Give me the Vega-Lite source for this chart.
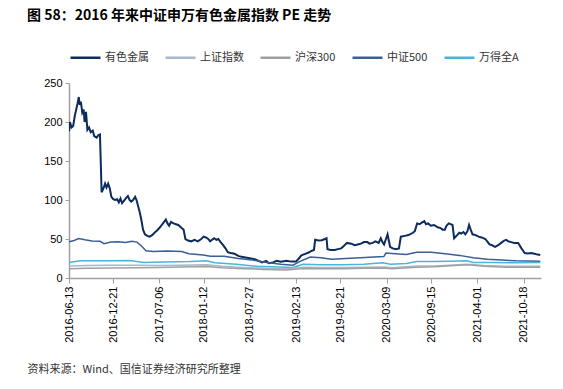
{
  "$schema": "https://vega.github.io/schema/vega-lite/v6.json",
  "autosize": {"type": "none"},
  "width": 472,
  "height": 195,
  "padding": {"left": 69, "top": 83, "right": 22, "bottom": 111},
  "background": "white",
  "config": {"view": {"stroke": null}, "font": "Noto Sans CJK SC"},
  "title": {
    "text": "图 58：2016 年来中证申万有色金属指数 PE 走势",
    "anchor": "start",
    "dx": 0,
    "offset": 18,
    "fontSize": 14,
    "fontWeight": "bold",
    "color": "#000000",
    "font": "Noto Sans CJK SC"
  },
  "data": {
    "values": [
      {"date":"2016-06-13","series":"有色金属","pe":188},{"date":"2016-06-17","series":"有色金属","pe":200},{"date":"2016-06-24","series":"有色金属","pe":193},{"date":"2016-07-01","series":"有色金属","pe":195},{"date":"2016-07-08","series":"有色金属","pe":208},{"date":"2016-07-14","series":"有色金属","pe":216},{"date":"2016-07-20","series":"有色金属","pe":224},{"date":"2016-07-25","series":"有色金属","pe":232},{"date":"2016-07-29","series":"有色金属","pe":222},{"date":"2016-08-03","series":"有色金属","pe":226},{"date":"2016-08-09","series":"有色金属","pe":212},{"date":"2016-08-15","series":"有色金属","pe":216},{"date":"2016-08-19","series":"有色金属","pe":200},{"date":"2016-08-25","series":"有色金属","pe":213},{"date":"2016-08-31","series":"有色金属","pe":190},{"date":"2016-09-07","series":"有色金属","pe":193},{"date":"2016-09-14","series":"有色金属","pe":187},{"date":"2016-09-23","series":"有色金属","pe":189},{"date":"2016-09-29","series":"有色金属","pe":182},{"date":"2016-10-10","series":"有色金属","pe":180},{"date":"2016-10-17","series":"有色金属","pe":183},{"date":"2016-10-24","series":"有色金属","pe":184},{"date":"2016-10-31","series":"有色金属","pe":110},{"date":"2016-11-08","series":"有色金属","pe":115},{"date":"2016-11-15","series":"有色金属","pe":121},{"date":"2016-11-21","series":"有色金属","pe":116},{"date":"2016-11-28","series":"有色金属","pe":121},{"date":"2016-12-05","series":"有色金属","pe":115},{"date":"2016-12-12","series":"有色金属","pe":104},{"date":"2016-12-20","series":"有色金属","pe":101},{"date":"2016-12-28","series":"有色金属","pe":100},{"date":"2017-01-06","series":"有色金属","pe":101},{"date":"2017-01-13","series":"有色金属","pe":97},{"date":"2017-01-20","series":"有色金属","pe":102},{"date":"2017-01-27","series":"有色金属","pe":96},{"date":"2017-02-07","series":"有色金属","pe":100},{"date":"2017-02-14","series":"有色金属","pe":103},{"date":"2017-02-21","series":"有色金属","pe":105},{"date":"2017-02-28","series":"有色金属","pe":100},{"date":"2017-03-07","series":"有色金属","pe":98},{"date":"2017-03-15","series":"有色金属","pe":100},{"date":"2017-03-24","series":"有色金属","pe":104},{"date":"2017-03-30","series":"有色金属","pe":100},{"date":"2017-04-06","series":"有色金属","pe":92},{"date":"2017-04-13","series":"有色金属","pe":84},{"date":"2017-04-20","series":"有色金属","pe":74},{"date":"2017-04-27","series":"有色金属","pe":62},{"date":"2017-05-05","series":"有色金属","pe":56},{"date":"2017-05-15","series":"有色金属","pe":54},{"date":"2017-05-25","series":"有色金属","pe":53},{"date":"2017-06-05","series":"有色金属","pe":55},{"date":"2017-06-15","series":"有色金属","pe":58},{"date":"2017-06-26","series":"有色金属","pe":61},{"date":"2017-07-06","series":"有色金属","pe":64},{"date":"2017-07-14","series":"有色金属","pe":67},{"date":"2017-07-24","series":"有色金属","pe":71},{"date":"2017-08-03","series":"有色金属","pe":75},{"date":"2017-08-10","series":"有色金属","pe":70},{"date":"2017-08-17","series":"有色金属","pe":67},{"date":"2017-08-25","series":"有色金属","pe":72},{"date":"2017-09-05","series":"有色金属","pe":70},{"date":"2017-09-15","series":"有色金属","pe":69},{"date":"2017-09-25","series":"有色金属","pe":68},{"date":"2017-10-10","series":"有色金属","pe":64},{"date":"2017-10-18","series":"有色金属","pe":62},{"date":"2017-10-26","series":"有色金属","pe":50},{"date":"2017-11-06","series":"有色金属","pe":48},{"date":"2017-11-20","series":"有色金属","pe":47},{"date":"2017-12-04","series":"有色金属","pe":49},{"date":"2017-12-18","series":"有色金属","pe":47},{"date":"2018-01-02","series":"有色金属","pe":50},{"date":"2018-01-12","series":"有色金属","pe":53},{"date":"2018-01-22","series":"有色金属","pe":52},{"date":"2018-02-01","series":"有色金属","pe":50},{"date":"2018-02-09","series":"有色金属","pe":47},{"date":"2018-02-26","series":"有色金属","pe":51},{"date":"2018-03-08","series":"有色金属","pe":49},{"date":"2018-03-16","series":"有色金属","pe":50},{"date":"2018-03-26","series":"有色金属","pe":46},{"date":"2018-04-06","series":"有色金属","pe":42},{"date":"2018-04-16","series":"有色金属","pe":38},{"date":"2018-04-26","series":"有色金属","pe":33},{"date":"2018-05-08","series":"有色金属","pe":32},{"date":"2018-05-25","series":"有色金属","pe":31},{"date":"2018-06-12","series":"有色金属","pe":28},{"date":"2018-06-29","series":"有色金属","pe":27},{"date":"2018-07-17","series":"有色金属","pe":26},{"date":"2018-08-03","series":"有色金属","pe":25},{"date":"2018-08-20","series":"有色金属","pe":24},{"date":"2018-09-05","series":"有色金属","pe":22},{"date":"2018-09-20","series":"有色金属","pe":20},{"date":"2018-10-08","series":"有色金属","pe":22},{"date":"2018-10-19","series":"有色金属","pe":19},{"date":"2018-11-06","series":"有色金属","pe":20},{"date":"2018-11-22","series":"有色金属","pe":22},{"date":"2018-12-10","series":"有色金属","pe":21},{"date":"2019-01-03","series":"有色金属","pe":22},{"date":"2019-01-23","series":"有色金属","pe":21},{"date":"2019-02-13","series":"有色金属","pe":21},{"date":"2019-02-25","series":"有色金属","pe":25},{"date":"2019-03-08","series":"有色金属","pe":29},{"date":"2019-03-25","series":"有色金属","pe":31},{"date":"2019-04-10","series":"有色金属","pe":33},{"date":"2019-04-22","series":"有色金属","pe":35},{"date":"2019-05-01","series":"有色金属","pe":36},{"date":"2019-05-06","series":"有色金属","pe":49},{"date":"2019-05-20","series":"有色金属","pe":48},{"date":"2019-06-03","series":"有色金属","pe":48.5},{"date":"2019-06-17","series":"有色金属","pe":50},{"date":"2019-06-24","series":"有色金属","pe":51},{"date":"2019-06-28","series":"有色金属","pe":37},{"date":"2019-07-12","series":"有色金属","pe":36},{"date":"2019-07-29","series":"有色金属","pe":36},{"date":"2019-08-12","series":"有色金属","pe":37},{"date":"2019-08-26","series":"有色金属","pe":38},{"date":"2019-09-06","series":"有色金属","pe":41},{"date":"2019-09-20","series":"有色金属","pe":45},{"date":"2019-10-08","series":"有色金属","pe":44},{"date":"2019-10-23","series":"有色金属","pe":42},{"date":"2019-11-05","series":"有色金属","pe":43},{"date":"2019-11-19","series":"有色金属","pe":44},{"date":"2019-12-02","series":"有色金属","pe":46},{"date":"2019-12-16","series":"有色金属","pe":46},{"date":"2019-12-26","series":"有色金属","pe":44},{"date":"2020-01-08","series":"有色金属","pe":45},{"date":"2020-01-20","series":"有色金属","pe":47},{"date":"2020-02-03","series":"有色金属","pe":45},{"date":"2020-02-12","series":"有色金属","pe":51},{"date":"2020-02-19","series":"有色金属","pe":46},{"date":"2020-02-26","series":"有色金属","pe":43},{"date":"2020-03-04","series":"有色金属","pe":49},{"date":"2020-03-12","series":"有色金属","pe":56},{"date":"2020-03-16","series":"有色金属","pe":50},{"date":"2020-03-23","series":"有色金属","pe":40},{"date":"2020-04-03","series":"有色金属","pe":38},{"date":"2020-04-17","series":"有色金属","pe":37},{"date":"2020-04-30","series":"有色金属","pe":38},{"date":"2020-05-08","series":"有色金属","pe":53},{"date":"2020-05-25","series":"有色金属","pe":54},{"date":"2020-06-10","series":"有色金属","pe":55},{"date":"2020-06-29","series":"有色金属","pe":58},{"date":"2020-07-07","series":"有色金属","pe":60},{"date":"2020-07-17","series":"有色金属","pe":70},{"date":"2020-07-28","series":"有色金属","pe":69},{"date":"2020-08-06","series":"有色金属","pe":71},{"date":"2020-08-17","series":"有色金属","pe":73},{"date":"2020-08-24","series":"有色金属","pe":69},{"date":"2020-09-02","series":"有色金属","pe":70},{"date":"2020-09-14","series":"有色金属","pe":67},{"date":"2020-09-28","series":"有色金属","pe":68},{"date":"2020-10-13","series":"有色金属","pe":65},{"date":"2020-10-26","series":"有色金属","pe":64},{"date":"2020-11-04","series":"有色金属","pe":62},{"date":"2020-11-13","series":"有色金属","pe":62},{"date":"2020-11-20","series":"有色金属","pe":67},{"date":"2020-11-30","series":"有色金属","pe":70},{"date":"2020-12-08","series":"有色金属","pe":69},{"date":"2020-12-16","series":"有色金属","pe":68},{"date":"2020-12-23","series":"有色金属","pe":51},{"date":"2021-01-05","series":"有色金属","pe":55},{"date":"2021-01-14","series":"有色金属","pe":58},{"date":"2021-01-22","series":"有色金属","pe":57},{"date":"2021-02-01","series":"有色金属","pe":59},{"date":"2021-02-09","series":"有色金属","pe":56},{"date":"2021-02-18","series":"有色金属","pe":60},{"date":"2021-02-25","series":"有色金属","pe":68},{"date":"2021-03-04","series":"有色金属","pe":62},{"date":"2021-03-12","series":"有色金属","pe":56},{"date":"2021-03-25","series":"有色金属","pe":55},{"date":"2021-04-07","series":"有色金属","pe":53},{"date":"2021-04-20","series":"有色金属","pe":52},{"date":"2021-05-06","series":"有色金属","pe":50},{"date":"2021-05-14","series":"有色金属","pe":47},{"date":"2021-05-24","series":"有色金属","pe":43},{"date":"2021-06-04","series":"有色金属","pe":42},{"date":"2021-06-17","series":"有色金属","pe":40},{"date":"2021-06-30","series":"有色金属","pe":42},{"date":"2021-07-13","series":"有色金属","pe":45},{"date":"2021-07-26","series":"有色金属","pe":48},{"date":"2021-08-04","series":"有色金属","pe":49},{"date":"2021-08-12","series":"有色金属","pe":47},{"date":"2021-08-25","series":"有色金属","pe":46},{"date":"2021-09-07","series":"有色金属","pe":45},{"date":"2021-09-24","series":"有色金属","pe":45},{"date":"2021-09-30","series":"有色金属","pe":42},{"date":"2021-10-08","series":"有色金属","pe":38},{"date":"2021-10-15","series":"有色金属","pe":35},{"date":"2021-10-22","series":"有色金属","pe":32},{"date":"2021-11-05","series":"有色金属","pe":31.5},{"date":"2021-11-19","series":"有色金属","pe":32},{"date":"2021-12-03","series":"有色金属","pe":31},{"date":"2021-12-17","series":"有色金属","pe":30},{"date":"2021-12-28","series":"有色金属","pe":29.5},

      {"date": "2016-06-13", "series": "中证500", "pe": 46.5},
      {"date": "2016-07-05", "series": "中证500", "pe": 48},
      {"date": "2016-07-25", "series": "中证500", "pe": 50.5},
      {"date": "2016-08-20", "series": "中证500", "pe": 49},
      {"date": "2016-09-20", "series": "中证500", "pe": 47.5},
      {"date": "2016-10-25", "series": "中证500", "pe": 47},
      {"date": "2016-11-10", "series": "中证500", "pe": 44},
      {"date": "2016-12-10", "series": "中证500", "pe": 46},
      {"date": "2017-01-10", "series": "中证500", "pe": 46.5},
      {"date": "2017-02-10", "series": "中证500", "pe": 45.5},
      {"date": "2017-03-10", "series": "中证500", "pe": 47},
      {"date": "2017-04-01", "series": "中证500", "pe": 46},
      {"date": "2017-04-20", "series": "中证500", "pe": 41},
      {"date": "2017-05-10", "series": "中证500", "pe": 35},
      {"date": "2017-06-10", "series": "中证500", "pe": 34},
      {"date": "2017-08-10", "series": "中证500", "pe": 34.5},
      {"date": "2017-10-10", "series": "中证500", "pe": 34},
      {"date": "2017-11-10", "series": "中证500", "pe": 31},
      {"date": "2018-01-10", "series": "中证500", "pe": 29.5},
      {"date": "2018-02-10", "series": "中证500", "pe": 28},
      {"date": "2018-04-10", "series": "中证500", "pe": 28},
      {"date": "2018-06-10", "series": "中证500", "pe": 25},
      {"date": "2018-08-10", "series": "中证500", "pe": 23},
      {"date": "2018-10-10", "series": "中证500", "pe": 20},
      {"date": "2018-12-10", "series": "中证500", "pe": 17.5},
      {"date": "2019-01-31", "series": "中证500", "pe": 16.5},
      {"date": "2019-02-28", "series": "中证500", "pe": 21},
      {"date": "2019-04-15", "series": "中证500", "pe": 27},
      {"date": "2019-06-01", "series": "中证500", "pe": 26},
      {"date": "2019-07-15", "series": "中证500", "pe": 24},
      {"date": "2019-09-15", "series": "中证500", "pe": 25},
      {"date": "2019-11-15", "series": "中证500", "pe": 26},
      {"date": "2020-01-15", "series": "中证500", "pe": 27},
      {"date": "2020-02-25", "series": "中证500", "pe": 27.5},
      {"date": "2020-03-05", "series": "中证500", "pe": 32},
      {"date": "2020-04-15", "series": "中证500", "pe": 31},
      {"date": "2020-06-01", "series": "中证500", "pe": 30},
      {"date": "2020-07-15", "series": "中证500", "pe": 33},
      {"date": "2020-09-15", "series": "中证500", "pe": 33},
      {"date": "2020-11-15", "series": "中证500", "pe": 31},
      {"date": "2021-01-15", "series": "中证500", "pe": 29},
      {"date": "2021-03-15", "series": "中证500", "pe": 26},
      {"date": "2021-05-15", "series": "中证500", "pe": 24},
      {"date": "2021-07-15", "series": "中证500", "pe": 23},
      {"date": "2021-09-15", "series": "中证500", "pe": 22},
      {"date": "2021-12-28", "series": "中证500", "pe": 21.5},

      {"date": "2016-06-13", "series": "万得全A", "pe": 20},
      {"date": "2016-08-01", "series": "万得全A", "pe": 22},
      {"date": "2016-12-01", "series": "万得全A", "pe": 22},
      {"date": "2017-03-01", "series": "万得全A", "pe": 22.5},
      {"date": "2017-05-01", "series": "万得全A", "pe": 20},
      {"date": "2017-08-01", "series": "万得全A", "pe": 20.5},
      {"date": "2017-11-15", "series": "万得全A", "pe": 21},
      {"date": "2018-01-25", "series": "万得全A", "pe": 22},
      {"date": "2018-03-01", "series": "万得全A", "pe": 19.5},
      {"date": "2018-06-01", "series": "万得全A", "pe": 17.5},
      {"date": "2018-09-01", "series": "万得全A", "pe": 15},
      {"date": "2018-12-01", "series": "万得全A", "pe": 14},
      {"date": "2019-01-31", "series": "万得全A", "pe": 13.5},
      {"date": "2019-03-15", "series": "万得全A", "pe": 17.5},
      {"date": "2019-06-01", "series": "万得全A", "pe": 17},
      {"date": "2019-09-01", "series": "万得全A", "pe": 17},
      {"date": "2019-12-01", "series": "万得全A", "pe": 17.5},
      {"date": "2020-02-20", "series": "万得全A", "pe": 19.5},
      {"date": "2020-03-25", "series": "万得全A", "pe": 17.5},
      {"date": "2020-06-01", "series": "万得全A", "pe": 18.5},
      {"date": "2020-07-15", "series": "万得全A", "pe": 21},
      {"date": "2020-09-15", "series": "万得全A", "pe": 21},
      {"date": "2020-12-01", "series": "万得全A", "pe": 21.5},
      {"date": "2021-02-15", "series": "万得全A", "pe": 22},
      {"date": "2021-03-15", "series": "万得全A", "pe": 20},
      {"date": "2021-06-01", "series": "万得全A", "pe": 20},
      {"date": "2021-09-01", "series": "万得全A", "pe": 19.5},
      {"date": "2021-12-28", "series": "万得全A", "pe": 20},

      {"date": "2016-06-13", "series": "上证指数", "pe": 15.5},
      {"date": "2016-09-01", "series": "上证指数", "pe": 16},
      {"date": "2016-12-01", "series": "上证指数", "pe": 16.2},
      {"date": "2017-04-01", "series": "上证指数", "pe": 16.5},
      {"date": "2017-07-01", "series": "上证指数", "pe": 16},
      {"date": "2017-10-01", "series": "上证指数", "pe": 16.5},
      {"date": "2018-01-25", "series": "上证指数", "pe": 17},
      {"date": "2018-04-01", "series": "上证指数", "pe": 15},
      {"date": "2018-07-01", "series": "上证指数", "pe": 13.5},
      {"date": "2018-10-01", "series": "上证指数", "pe": 12.5},
      {"date": "2019-01-04", "series": "上证指数", "pe": 11.8},
      {"date": "2019-03-15", "series": "上证指数", "pe": 13.8},
      {"date": "2019-06-01", "series": "上证指数", "pe": 13.5},
      {"date": "2019-09-01", "series": "上证指数", "pe": 13.5},
      {"date": "2019-12-01", "series": "上证指数", "pe": 13.8},
      {"date": "2020-03-01", "series": "上证指数", "pe": 14},
      {"date": "2020-04-01", "series": "上证指数", "pe": 13},
      {"date": "2020-07-15", "series": "上证指数", "pe": 15.5},
      {"date": "2020-10-01", "series": "上证指数", "pe": 15.5},
      {"date": "2021-02-18", "series": "上证指数", "pe": 17.5},
      {"date": "2021-05-01", "series": "上证指数", "pe": 16},
      {"date": "2021-08-01", "series": "上证指数", "pe": 15},
      {"date": "2021-12-28", "series": "上证指数", "pe": 15},

      {"date": "2016-06-13", "series": "沪深300", "pe": 12},
      {"date": "2016-09-01", "series": "沪深300", "pe": 12.5},
      {"date": "2016-12-01", "series": "沪深300", "pe": 12.8},
      {"date": "2017-04-01", "series": "沪深300", "pe": 13},
      {"date": "2017-07-01", "series": "沪深300", "pe": 13.5},
      {"date": "2017-10-01", "series": "沪深300", "pe": 14},
      {"date": "2018-01-25", "series": "沪深300", "pe": 14.8},
      {"date": "2018-04-01", "series": "沪深300", "pe": 13},
      {"date": "2018-07-01", "series": "沪深300", "pe": 12},
      {"date": "2018-10-01", "series": "沪深300", "pe": 11},
      {"date": "2019-01-04", "series": "沪深300", "pe": 10.3},
      {"date": "2019-03-15", "series": "沪深300", "pe": 12.3},
      {"date": "2019-06-01", "series": "沪深300", "pe": 12},
      {"date": "2019-09-01", "series": "沪深300", "pe": 12},
      {"date": "2019-12-01", "series": "沪深300", "pe": 12.5},
      {"date": "2020-03-01", "series": "沪深300", "pe": 12.5},
      {"date": "2020-04-01", "series": "沪深300", "pe": 11.8},
      {"date": "2020-07-15", "series": "沪深300", "pe": 13.8},
      {"date": "2020-10-01", "series": "沪深300", "pe": 14.5},
      {"date": "2021-02-18", "series": "沪深300", "pe": 17},
      {"date": "2021-05-01", "series": "沪深300", "pe": 15},
      {"date": "2021-08-01", "series": "沪深300", "pe": 13.8},
      {"date": "2021-12-28", "series": "沪深300", "pe": 13.8}
    ]
  },
  "mark": {"type": "line", "clip": true},
  "encoding": {
    "x": {
      "field": "date", "type": "temporal",
      "scale": {"domain": ["2016-06-13", "2021-12-31"]},
      "axis": {
        "values": ["2016-06-13","2016-12-21","2017-07-06","2018-01-12","2018-07-27","2019-02-13","2019-08-21","2020-03-09","2020-09-15","2021-04-01","2021-10-18"],
        "format": "%Y-%m-%d",
        "labelAngle": -90,
        "labelFontSize": 11,
        "labelFont": "Liberation Sans",
        "labelColor": "#000000",
        "labelPadding": 3,
        "tickSize": 5,
        "tickColor": "#a0a0a0",
        "domainColor": "#a0a0a0",
        "domainWidth": 1.5,
        "grid": false,
        "labelOverlap": false,
        "title": "资料来源：Wind、国信证券经济研究所整理",
        "titleFont": "Noto Sans CJK SC",
        "titleFontSize": 11,
        "titleFontWeight": "normal",
        "titleColor": "#333333",
        "titleAlign": "left",
        "titleBaseline": "middle",
        "titleX": -42,
        "titleY": 91
      }
    },
    "y": {
      "field": "pe", "type": "quantitative",
      "scale": {"domain": [0, 250], "nice": false},
      "axis": {
        "values": [0, 50, 100, 150, 200, 250],
        "labelOverlap": false,
        "labelFontSize": 11,
        "labelFont": "Liberation Sans",
        "labelColor": "#000000",
        "labelPadding": 3,
        "tickSize": 4,
        "tickColor": "#a0a0a0",
        "domainColor": "#a0a0a0",
        "domainWidth": 1.5,
        "grid": false,
        "title": null
      }
    },
    "color": {
      "field": "series", "type": "nominal",
      "scale": {
        "domain": ["有色金属", "上证指数", "沪深300", "中证500", "万得全A"],
        "range": ["#0c2c5c", "#a6b8cc", "#a0a0a0", "#3b5f95", "#4bb4d8"]
      },
      "legend": {
        "title": null,
        "orient": "none",
        "direction": "horizontal",
        "legendX": 0,
        "legendY": -42,
        "symbolType": "stroke",
        "symbolSize": 900,
        "symbolStrokeWidth": 2.5,
        "labelFontSize": 11,
        "labelFont": "Noto Sans CJK SC",
        "labelColor": "#333333",
        "labelOffset": 3,
        "columnPadding": 11
      }
    },
    "strokeWidth": {
      "condition": {"test": "datum.series === '有色金属'", "value": 2},
      "value": 1.5
    },
    "order": {"field": "series", "sort": "descending"}
  }
}
